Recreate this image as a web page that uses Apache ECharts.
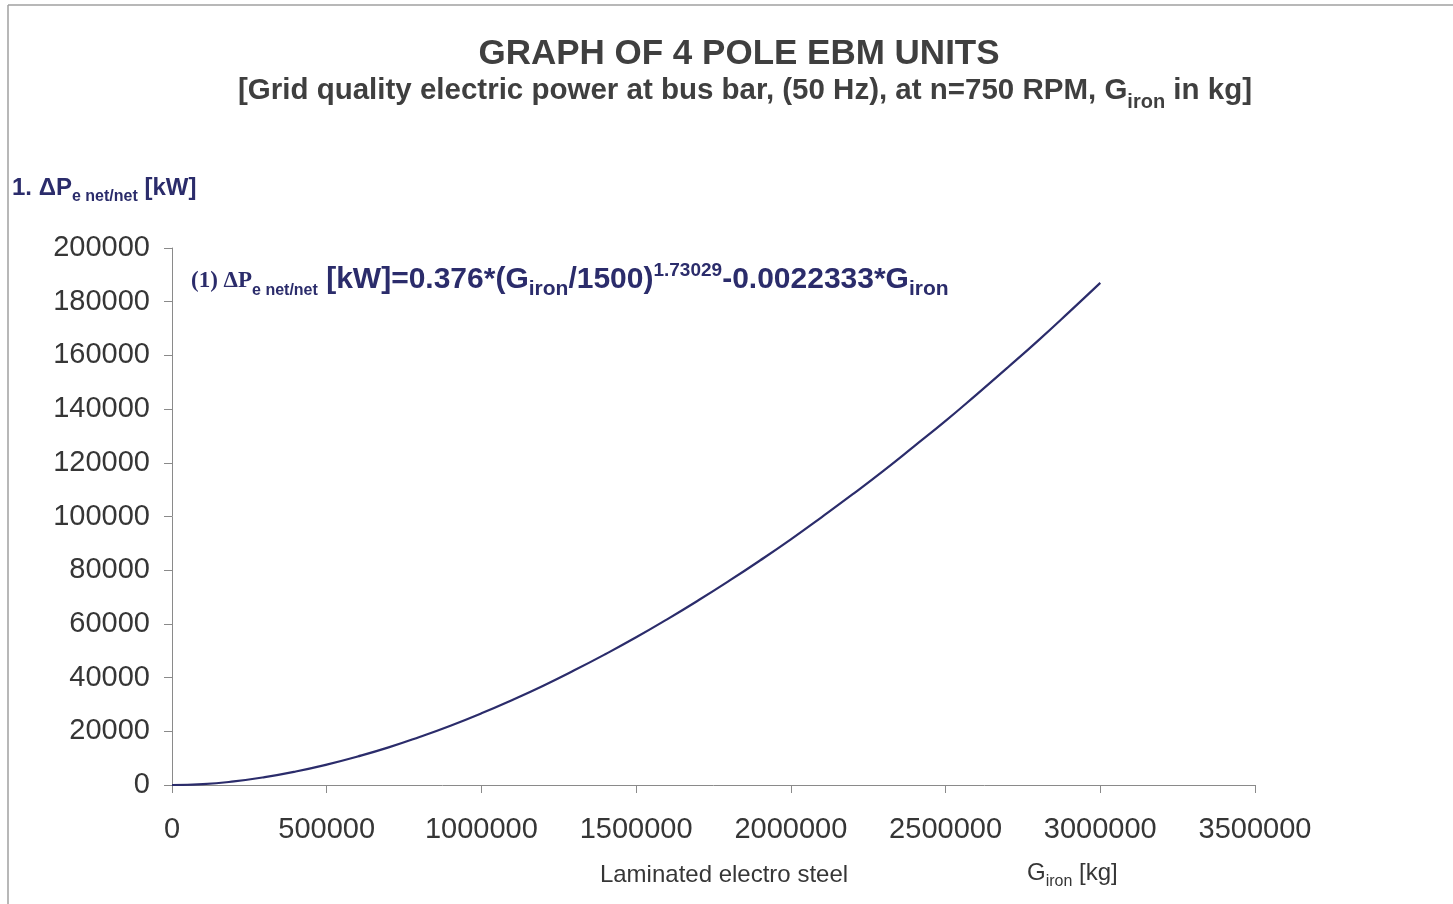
<!DOCTYPE html>
<html>
<head>
<meta charset="utf-8">
<script src="https://cdn.jsdelivr.net/npm/echarts@6/dist/echarts.min.js"></script>
<style>
  html, body { margin: 0; padding: 0; background: #fff; }
  #chart { width: 1453px; height: 904px; }
</style>
</head>
<body>
<div id="chart"></div>
<script>
// Iron mass of laminated electro steel [kg]
const ironMass = [
  0, 100000, 200000, 300000, 400000, 500000, 600000, 700000, 800000, 900000,
  1000000, 1100000, 1200000, 1300000, 1400000, 1500000, 1600000, 1700000, 1800000, 1900000,
  2000000, 2100000, 2200000, 2300000, 2400000, 2500000, 2600000, 2700000, 2800000, 2900000,
  3000000
];
// Net electric power difference [kW]
const powerNet = [
  0, 320, 1340, 2930, 5030, 7600, 10600, 14000, 17900, 22100,
  26700, 31700, 37000, 42700, 48700, 55000, 61700, 68700, 76000, 83600,
  91500, 99800, 108300, 117100, 126300, 135600, 145400, 155400, 165600, 176200,
  187000
];
const xTicks = { min: 0, max: 3500000, step: 500000 };
const yTicks = { min: 0, max: 200000, step: 20000 };

const navy = '#2b2c6b';
const axisGray = '#8a8a8a';
const labelGray = '#363636';
const sans = 'Liberation Sans, Arial, sans-serif';
const serif = 'Liberation Serif, Times New Roman, serif';

const chart = echarts.init(document.getElementById('chart'), null, { renderer: 'canvas' });

const seriesData = ironMass.map((g, i) => [g, powerNet[i]]);
const plain = v => String(v);

chart.setOption({
  backgroundColor: '#ffffff',
  animation: false,
  grid: { left: 172, right: 198, top: 248, bottom: 119 },
  xAxis: {
    type: 'value',
    min: xTicks.min, max: xTicks.max, interval: xTicks.step,
    axisLine: { lineStyle: { color: axisGray, width: 1 } },
    axisTick: { show: true, length: 8, lineStyle: { color: axisGray } },
    splitLine: { show: false },
    axisLabel: { fontFamily: sans, fontSize: 29, color: labelGray, margin: 30, formatter: plain }
  },
  yAxis: {
    type: 'value',
    min: yTicks.min, max: yTicks.max, interval: yTicks.step,
    axisLine: { show: true, lineStyle: { color: axisGray, width: 1 } },
    axisTick: { show: true, length: 8, lineStyle: { color: axisGray } },
    splitLine: { show: false },
    axisLabel: { fontFamily: sans, fontSize: 29, color: labelGray, margin: 22, formatter: plain }
  },
  series: [{
    type: 'line',
    data: seriesData,
    smooth: true,
    showSymbol: false,
    lineStyle: { color: navy, width: 2.2 }
  }],
  graphic: [
    // page frame
    { type: 'line', shape: { x1: 8, y1: 5, x2: 1453, y2: 5 }, style: { stroke: '#a0a0a0', lineWidth: 1.5 }, silent: true },
    { type: 'line', shape: { x1: 8, y1: 5, x2: 8, y2: 904 }, style: { stroke: '#a0a0a0', lineWidth: 1.5 }, silent: true },
    // title
    {
      type: 'text', x: 739, y: 54,
      style: {
        text: 'GRAPH OF 4 POLE EBM UNITS',
        textAlign: 'center', textVerticalAlign: 'middle',
        fontFamily: sans, fontWeight: 'bold', fontSize: 35, fill: '#3f3f3f'
      }
    },
    {
      type: 'text', x: 745, y: 76,
      style: {
        text: '{m|[Grid quality electric power at bus bar, (50 Hz), at n=750 RPM, G}{s|iron}{m| in kg]}',
        textAlign: 'center',
        rich: {
          m: { fontFamily: sans, fontWeight: 'bold', fontSize: 29.5, fill: '#3f3f3f', lineHeight: 36, verticalAlign: 'top' },
          s: { fontFamily: sans, fontWeight: 'bold', fontSize: 20, fill: '#3f3f3f', lineHeight: 20, verticalAlign: 'top', padding: [16, 0, 0, 0] }
        }
      }
    },
    // y axis name
    {
      type: 'text', x: 12, y: 176,
      style: {
        text: '{m|1. ΔP}{s|e net/net}{m| [kW]}',
        rich: {
          m: { fontFamily: sans, fontWeight: 'bold', fontSize: 24, fill: navy, lineHeight: 30, verticalAlign: 'top' },
          s: { fontFamily: sans, fontWeight: 'bold', fontSize: 16, fill: navy, lineHeight: 16, verticalAlign: 'top', padding: [13, 0, 0, 0] }
        }
      }
    },
    // formula annotation
    {
      type: 'text', x: 191, y: 261,
      style: {
        text: '{t|(1) ΔP}{s|e net/net}{m| [kW]=0.376*(G}{g|iron}{m|/1500)}{p|1.73029}{m|-0.0022333*G}{g|iron}',
        rich: {
          t: { fontFamily: serif, fontWeight: 'bold', fontSize: 23, fill: navy, lineHeight: 38, verticalAlign: 'top', padding: [9, 0, 0, 0] },
          s: { fontFamily: sans, fontWeight: 'bold', fontSize: 16, fill: navy, lineHeight: 16, verticalAlign: 'top', padding: [22, 0, 0, 0] },
          m: { fontFamily: sans, fontWeight: 'bold', fontSize: 30, fill: navy, lineHeight: 38, verticalAlign: 'top', padding: [4, 0, 0, 0] },
          g: { fontFamily: sans, fontWeight: 'bold', fontSize: 21, fill: navy, lineHeight: 21, verticalAlign: 'top', padding: [18, 0, 0, 0] },
          p: { fontFamily: sans, fontWeight: 'bold', fontSize: 19, fill: navy, lineHeight: 19, verticalAlign: 'top', padding: [0, 0, 0, 0] }
        }
      }
    },
    // x axis captions
    {
      type: 'text', x: 724, y: 875,
      style: {
        text: 'Laminated electro steel', textAlign: 'center', textVerticalAlign: 'middle',
        fontFamily: sans, fontSize: 24, fill: labelGray
      }
    },
    {
      type: 'text', x: 1027, y: 861,
      style: {
        text: '{m|G}{s|iron}{m| [kg]}',
        rich: {
          m: { fontFamily: sans, fontSize: 24, fill: labelGray, lineHeight: 30, verticalAlign: 'top' },
          s: { fontFamily: sans, fontSize: 16, fill: labelGray, lineHeight: 16, verticalAlign: 'top', padding: [13, 0, 0, 0] }
        }
      }
    }
  ]
});
</script>
</body>
</html>
